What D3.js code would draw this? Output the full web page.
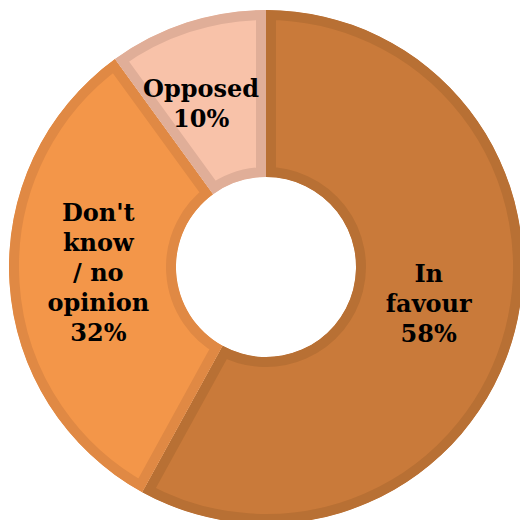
<!DOCTYPE html>
<html>
<head>
<meta charset="utf-8">
<script src="https://cdn.jsdelivr.net/npm/d3@7"></script>
<style>
  html, body { margin: 0; padding: 0; background: #ffffff; }
  svg { display: block; }
</style>
</head>
<body>
<svg id="chart" width="520" height="520"></svg>
<script>
// Data
const categories = ["In favour", "Don't know / no opinion", "Opposed"];
const values = [58, 32, 10];
const labelLines = [["In", "favour"], ["Don't", "know", "/ no", "opinion"], ["Opposed"]];
const fillColors = ["#C97A3A", "#F39649", "#F8C2A9"];
const strokeColors = ["#B87034", "#E08944", "#E0AE98"];

const width = 520, height = 520;
const cx = 266, cy = 267;
const outerR = 257, innerR = 90;
const strokeW = 10;

const svg = d3.select("#chart");
const defs = svg.append("defs");

const pie = d3.pie().sort(null).value(d => d)(values);
const arc = d3.arc().innerRadius(innerR).outerRadius(outerR);
const labelArc = d3.arc().innerRadius(168).outerRadius(168);

pie.forEach((p, i) => {
  const id = "clip" + i;
  defs.append("clipPath").attr("id", id)
    .append("path").attr("d", arc(p)).attr("transform", `translate(${cx},${cy})`);
  const sg = svg.append("g").attr("clip-path", `url(#${id})`)
    .append("g").attr("transform", `translate(${cx},${cy})`);
  sg.append("path")
    .attr("d", arc(p))
    .attr("fill", fillColors[i])
    .attr("stroke", strokeColors[i])
    .attr("stroke-width", strokeW * 2)
    .attr("stroke-linejoin", "miter");
});

const labels = svg.append("g").attr("transform", `translate(${cx},${cy})`);
pie.forEach((p, i) => {
  let [x, y] = labelArc.centroid(p);
  // keep narrow slice label inside its sector
  if (i === 2) { x -= 13; y += 2; }
  const lines = labelLines[i].concat([values[i] + "%"]);
  const lh = 30;
  const t = labels.append("text")
    .attr("text-anchor", "middle")
    .attr("font-family", "'DejaVu Serif', serif")
    .attr("font-weight", "bold")
    .attr("font-size", 24)
    .attr("fill", "#000");
  lines.forEach((ln, k) => {
    t.append("tspan")
      .attr("x", x)
      .attr("y", y + (k - (lines.length - 1) / 2) * lh + 3)
      .text(ln);
  });
});
</script>
</body>
</html>
